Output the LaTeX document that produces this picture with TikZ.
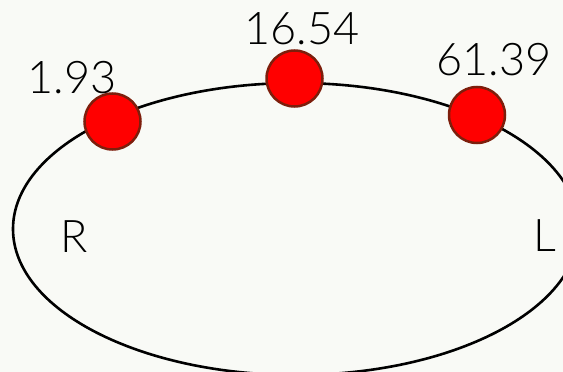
\documentclass[tikz,border=0pt]{standalone}
\usepackage{fontspec}
\setmainfont{Lato}[UprightFont={* Light}]
\definecolor{bgcol}{RGB}{249,250,246}
\definecolor{dotedge}{RGB}{125,30,12}
\tikzset{
  dot/.style={circle, fill=red, draw=dotedge, line width=2.5pt, minimum size=56pt, inner sep=0pt},
  val/.style={anchor=base, inner sep=0pt, font=\fontsize{45}{50}\selectfont},
}
\begin{document}
\begin{tikzpicture}[x=1pt,y=-1pt]
\fill[bgcol] (0,0) rectangle (563,372);
\useasboundingbox (0,0) rectangle (563,372);
\begin{scope}
\clip (0,0) rectangle (563,372);
\draw[line width=2.6pt] (296,229) ellipse [x radius=283pt, y radius=146pt];
\end{scope}
\node[dot] (d1) at (112.5,121.5) {};
\node[dot] (d2) at (294.5,78.5) {};
\node[dot] (d3) at (477,115) {};
\node[val] (t1) at (72,93) {1.93};
\node[val] (t2) at (302,45) {16.54};
\node[val] (t3) at (494,75) {61.39};
\node[val] (r) at (74,252) {R};
\node[val] (l) at (545,251) {L};
\end{tikzpicture}
\end{document}
